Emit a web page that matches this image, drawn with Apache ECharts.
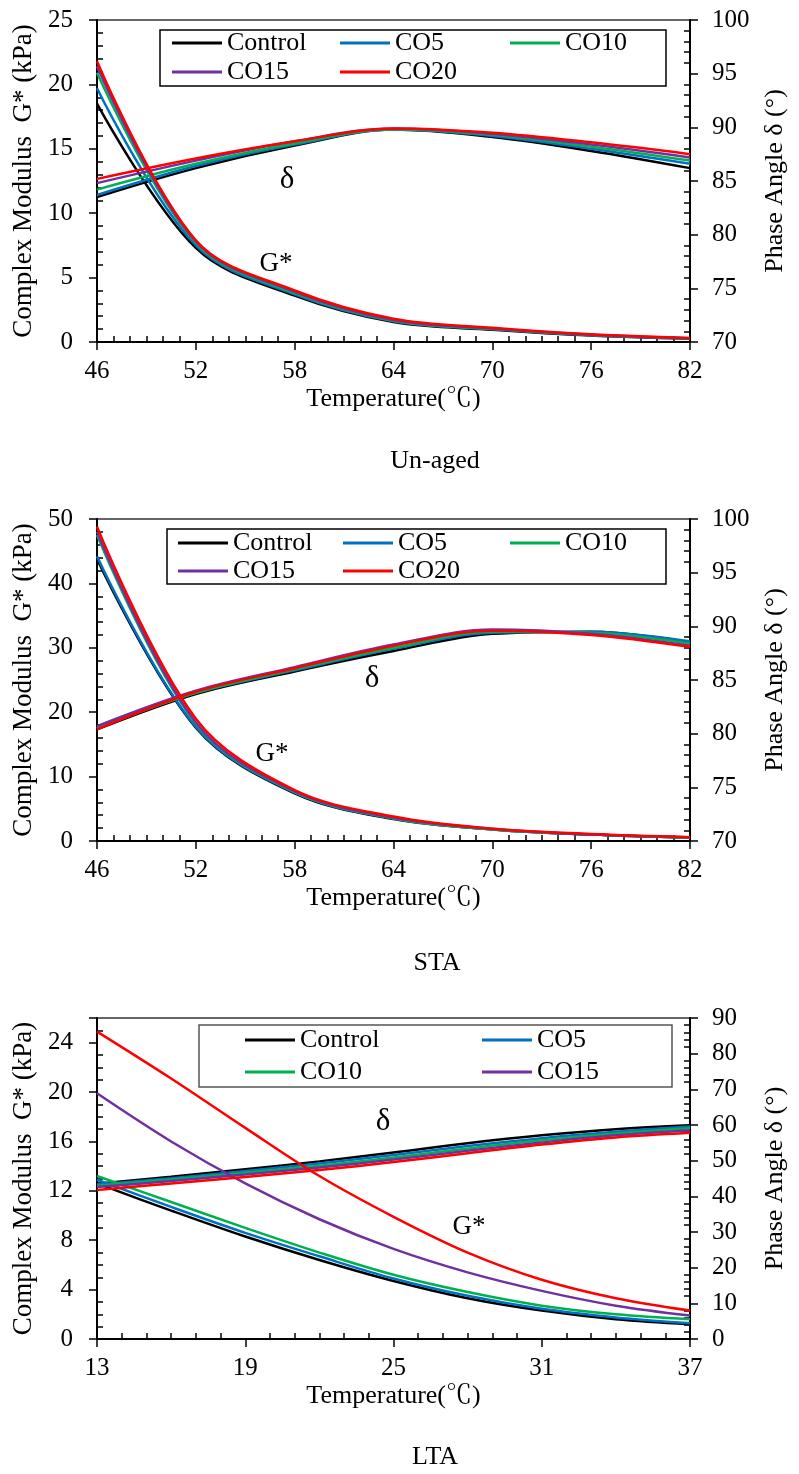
<!DOCTYPE html>
<html>
<head>
<meta charset="utf-8">
<script src="https://cdn.jsdelivr.net/npm/echarts@6/dist/echarts.min.js"></script>
<style>
html, body { margin: 0; padding: 0; background: #fff; }
#chart { width: 799px; height: 1474px; }
</style>
</head>
<body>
<div id="chart"></div>
<script>
var names = ["Control", "CO5", "CO10", "CO15", "CO20"];
var colors = ["#000000", "#0070C0", "#00B050", "#7030A0", "#FF0000"];

// Un-aged
var tempUnaged = [46, 52, 58, 64, 70, 76, 82];
var gUnaged = [
  [18.5, 7.3, 3.6, 1.55, 0.95, 0.5, 0.25],
  [19.7, 7.5, 3.7, 1.6, 1.0, 0.52, 0.27],
  [20.9, 7.7, 3.8, 1.65, 1.0, 0.55, 0.28],
  [21.4, 7.8, 3.9, 1.7, 1.05, 0.57, 0.3],
  [21.8, 7.9, 4.0, 1.8, 1.1, 0.6, 0.32]
];
var dUnaged = [
  [83.5, 86.2, 88.3, 89.8, 89.1, 87.8, 86.2],
  [83.7, 86.4, 88.4, 89.8, 89.2, 88.0, 86.6],
  [84.2, 86.6, 88.5, 89.8, 89.3, 88.2, 86.9],
  [84.8, 86.9, 88.7, 89.9, 89.4, 88.4, 87.2],
  [85.2, 87.1, 88.7, 89.9, 89.5, 88.6, 87.5]
];

// STA
var tempSTA = [46, 52, 58, 64, 70, 76, 82];
var gSTA = [
  [43.8, 17.6, 7.4, 3.4, 1.8, 1.0, 0.5],
  [44.2, 17.7, 7.5, 3.5, 1.8, 1.0, 0.5],
  [47.5, 18.2, 7.6, 3.5, 1.8, 1.0, 0.5],
  [48.0, 18.4, 7.7, 3.6, 1.9, 1.0, 0.6],
  [48.8, 19.0, 7.9, 3.8, 1.9, 1.1, 0.6]
];
var dSTA = [
  [80.4, 83.7, 85.8, 87.7, 89.3, 89.5, 88.5],
  [80.5, 83.8, 85.9, 87.9, 89.4, 89.5, 88.6],
  [80.5, 83.8, 86.0, 88.0, 89.5, 89.4, 88.4],
  [80.7, 84.0, 86.2, 88.3, 89.7, 89.3, 88.2],
  [80.4, 83.9, 86.1, 88.2, 89.6, 89.2, 88.1]
];

// LTA
var tempLTA = [13, 16, 19, 22, 25, 28, 31, 34, 37];
var gLTA = [
  [12.6, 10.4, 8.3, 6.4, 4.7, 3.3, 2.3, 1.6, 1.2],
  [12.9, 10.7, 8.6, 6.7, 4.9, 3.5, 2.45, 1.75, 1.27],
  [13.2, 11.1, 9.0, 7.0, 5.2, 3.8, 2.7, 2.0, 1.6],
  [19.9, 16.0, 12.6, 9.7, 7.3, 5.4, 3.9, 2.7, 1.9],
  [24.9, 21.1, 17.1, 13.2, 9.9, 7.0, 4.8, 3.3, 2.3]
];
var dLTA = [
  [43.5, 45.5, 47.6, 49.8, 52.3, 54.9, 57.1, 58.8, 59.9],
  [43.3, 45.1, 47.1, 49.2, 51.6, 54.1, 56.3, 58.1, 59.6],
  [43.0, 44.7, 46.6, 48.6, 50.9, 53.4, 55.7, 57.6, 59.1],
  [42.6, 44.3, 46.1, 48.1, 50.3, 52.8, 55.1, 57.1, 58.5],
  [41.8, 43.6, 45.4, 47.4, 49.6, 52.1, 54.5, 56.5, 57.8]
];

var FONT = '"Liberation Serif", "Times New Roman", "Noto Serif CJK SC", serif';

var panels = [
  { temp: tempUnaged, g: gUnaged, d: dUnaged, top: 20, height: 322,
    xMin: 46, xMax: 82, gMax: 25, gInt: 5, gMinor: 5, dMin: 70, dMax: 100, dInt: 5, dMinor: 5 },
  { temp: tempSTA, g: gSTA, d: dSTA, top: 519, height: 322,
    xMin: 46, xMax: 82, gMax: 50, gInt: 10, gMinor: 5, dMin: 70, dMax: 100, dInt: 5, dMinor: 5 },
  { temp: tempLTA, g: gLTA, d: dLTA, top: 1018, height: 321,
    xMin: 13, xMax: 37, gMax: 26, gInt: 4, gMinor: 4, dMin: 0, dMax: 90, dInt: 10, dMinor: 5 }
];

var grids = [], xAxes = [], yAxes = [], series = [];

function axisCommon() {
  return {
    axisLine: { show: true, lineStyle: { color: "#000", width: 2 } },
    axisTick: { show: true, inside: false, length: 8, lineStyle: { color: "#000", width: 1.5 } },
    splitLine: { show: false },
    axisLabel: { color: "#000", fontSize: 25, fontFamily: FONT },
    nameTextStyle: { color: "#000", fontSize: 26, fontFamily: FONT }
  };
}

panels.forEach(function (p, k) {
  grids.push({
    left: 97, width: 593, top: p.top, height: p.height,
    show: true, borderColor: "#333", borderWidth: 1.5, backgroundColor: "transparent"
  });

  var xa = axisCommon();
  xa.gridIndex = k; xa.type = "value";
  xa.min = p.xMin; xa.max = p.xMax; xa.interval = 6;
  xa.minorTick = { show: true, splitNumber: 6, length: -6, lineStyle: { color: "#000", width: 1.5 } };
  xa.name = "Temperature(℃)"; xa.nameLocation = "middle"; xa.nameGap = 44;
  xa.axisLabel.margin = 17;
  xAxes.push(xa);

  var yl = axisCommon();
  yl.gridIndex = k; yl.type = "value"; yl.position = "left";
  yl.min = 0; yl.max = p.gMax; yl.interval = p.gInt;
  yl.minorTick = { show: true, splitNumber: p.gMinor, length: -6, lineStyle: { color: "#000", width: 1.5 } };
  yl.name = "Complex Modulus  G* (kPa)"; yl.nameLocation = "middle"; yl.nameGap = 60;
  yl.nameTextStyle.fontSize = 27;
  yl.axisLabel.margin = 24;
  yl.axisLabel.formatter = (function (it) {
    return function (v) { return (v % it === 0) ? String(v) : ""; };
  })(p.gInt);
  yAxes.push(yl);

  var yr = axisCommon();
  yr.gridIndex = k; yr.type = "value"; yr.position = "right";
  yr.min = p.dMin; yr.max = p.dMax; yr.interval = p.dInt;
  yr.minorTick = { show: true, splitNumber: p.dMinor, length: -6, lineStyle: { color: "#000", width: 1.5 } };
  yr.name = "Phase Angle δ (°)"; yr.nameLocation = "middle"; yr.nameGap = 72;
  yr.axisLabel.margin = 22;
  yAxes.push(yr);

  names.forEach(function (nm, i) {
    series.push({
      name: nm, type: "line", xAxisIndex: k, yAxisIndex: 2 * k,
      data: p.temp.map(function (t, j) { return [t, p.g[i][j]]; }),
      smooth: 0.35, symbol: "none", color: colors[i],
      lineStyle: { width: 2.5, color: colors[i] }, z: 2 + i
    });
    series.push({
      name: nm, type: "line", xAxisIndex: k, yAxisIndex: 2 * k + 1,
      data: p.temp.map(function (t, j) { return [t, p.d[i][j]]; }),
      smooth: 0.35, symbol: "none", color: colors[i],
      lineStyle: { width: 2.5, color: colors[i] }, z: 2 + i
    });
  });
});

function legendCol(left, top, gap, data) {
  return {
    orient: "vertical", left: left, top: top, padding: 0, itemGap: gap,
    icon: "rect", itemWidth: 50, itemHeight: 3, selectedMode: false,
    textStyle: { color: "#000", fontSize: 26, fontFamily: FONT, lineHeight: 26 },
    data: data
  };
}

var legends = [
  legendCol(172, 30, 3, ["Control", "CO15"]),
  legendCol(340, 30, 3, ["CO5", "CO20"]),
  legendCol(510, 30, 3, ["CO10"]),
  legendCol(178, 530, 2, ["Control", "CO15"]),
  legendCol(343, 530, 2, ["CO5", "CO20"]),
  legendCol(510, 530, 2, ["CO10"]),
  legendCol(245, 1027, 6, ["Control", "CO10"]),
  legendCol(482, 1027, 6, ["CO5", "CO15"])
];

function txt(s, x, y, size) {
  return { type: "text", x: x, y: y, z: 10,
    style: { text: s, fill: "#000", font: size + 'px ' + FONT, align: "center", verticalAlign: "middle" } };
}
function box(x, y, w, h, c) {
  return { type: "rect", z: 10, shape: { x: x, y: y, width: w, height: h },
    style: { fill: "none", stroke: c, lineWidth: 1.5 } };
}

var option = {
  backgroundColor: "#fff",
  animation: false,
  grid: grids,
  xAxis: xAxes,
  yAxis: yAxes,
  legend: legends,
  series: series,
  graphic: [
    box(160, 30, 506, 56, "#000"),
    box(167, 529, 499, 55, "#000"),
    box(199, 1025, 473, 62, "#555"),
    txt("δ", 287, 180, 31), txt("G*", 276, 264, 27),
    txt("δ", 372, 679, 31), txt("G*", 272, 754, 27),
    txt("δ", 383, 1122, 31), txt("G*", 469, 1227, 27),
    txt("Un-aged", 435, 461, 26), txt("STA", 437, 963, 26), txt("LTA", 435, 1457, 26)
  ]
};

var chart = echarts.init(document.getElementById("chart"));
chart.setOption(option);
</script>
</body>
</html>
